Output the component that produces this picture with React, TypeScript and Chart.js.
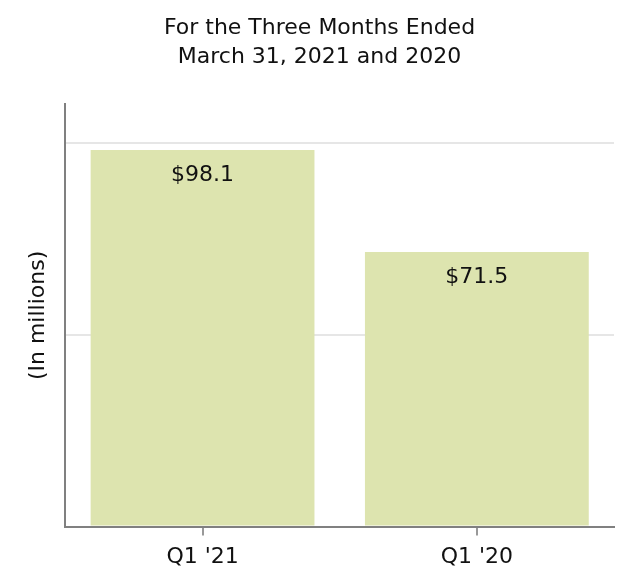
import React, { useEffect, useRef } from "react";
import { Chart, registerables } from "chart.js";

Chart.register(...registerables);

const categories = ["Q1 '21", "Q1 '20"];
const values = [98.1, 71.5];
const valueLabels = ["$98.1", "$71.5"];
const titleLines = ["For the Three Months Ended", "March 31, 2021 and 2020"];
const yAxisTitle = "(In millions)";

const FONT = "'DejaVu Sans', sans-serif";

const valueLabelPlugin = {
  id: "valueLabels",
  afterDatasetsDraw(chart: any) {
    const ctx = chart.ctx;
    const meta = chart.getDatasetMeta(0);
    ctx.save();
    ctx.font = `22px ${FONT}`;
    ctx.fillStyle = "#111111";
    ctx.textAlign = "center";
    ctx.textBaseline = "middle";
    meta.data.forEach((bar: any, i: number) => {
      ctx.fillText(valueLabels[i], bar.x, bar.y + 25);
    });
    ctx.restore();
  },
};

export default function App() {
  const ref = useRef<HTMLCanvasElement | null>(null);
  useEffect(() => {
    if (!ref.current) return;
    const chart = new Chart(ref.current, {
      type: "bar",
      data: {
        labels: categories,
        datasets: [
          {
            data: values,
            backgroundColor: "#dde4af",
            borderWidth: 0,
            categoryPercentage: 1,
            barPercentage: 0.816,
          },
        ],
      },
      options: {
        animation: false,
        responsive: true,
        maintainAspectRatio: false,
        layout: { padding: { left: 17, right: 12, top: 0, bottom: 4 } },
        plugins: {
          legend: { display: false },
          tooltip: { enabled: false },
          title: {
            display: true,
            text: titleLines,
            color: "#111111",
            font: { family: FONT, size: 22, weight: "normal", lineHeight: 1.3 },
            padding: { top: 6, bottom: 33 },
          },
        },
        scales: {
          x: {
            grid: {
              offset: false,
              drawOnChartArea: false,
              drawTicks: true,
              tickLength: 9,
              color: "#999999",
              lineWidth: 2,
            },
            border: { display: true, color: "#808080", width: 2 },
            ticks: {
              color: "#111111",
              font: { family: FONT, size: 22 },
              padding: 8,
            },
          },
          y: {
            min: 0,
            max: 110,
            ticks: { display: false, stepSize: 50 },
            afterBuildTicks: (axis: any) => {
              axis.ticks = axis.ticks.filter((t: any) => t.value % 50 === 0);
            },
            grid: {
              drawTicks: false,
              color: "#e6e6e6",
              lineWidth: 2,
            },
            border: { display: true, color: "#808080", width: 2 },
            title: {
              display: true,
              text: yAxisTitle,
              color: "#111111",
              font: { family: FONT, size: 22, lineHeight: 1.2 },
              padding: { top: 0, bottom: 14 },
            },
          },
        },
      },
      plugins: [valueLabelPlugin],
    });
    return () => chart.destroy();
  }, []);
  return (
    <div style={{ width: 618, height: 574, position: "relative" }}>
      <canvas ref={ref} />
    </div>
  );
}
